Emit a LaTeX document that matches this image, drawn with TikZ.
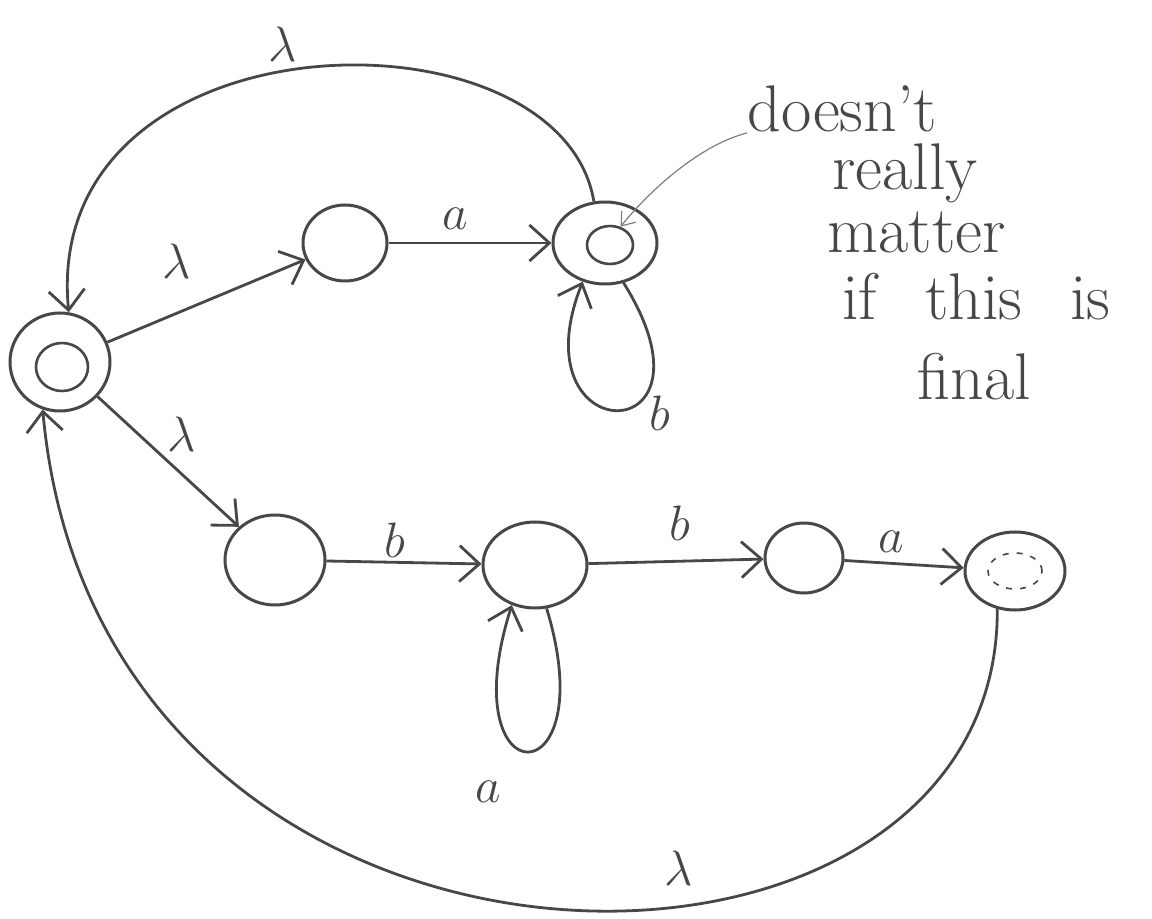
\documentclass[tikz,border=0pt]{standalone}
\usepackage{amsmath,amssymb}
\usepackage{tikz}
\usetikzlibrary{arrows.meta,shapes.geometric}
\colorlet{ink}{black!72}
\tikzset{
  st/.style={draw=ink,ellipse,line width=1.5pt,inner sep=0pt},
  inr/.style={draw=ink,ellipse,line width=1.3pt,inner sep=0pt},
  tr/.style={draw=ink,line width=1.4pt,-{Straight Barb[length=10pt,width=18pt,line width=1.4pt]}},
  lab/.style={font=\fontsize{26}{30}\selectfont,text=ink},
  note/.style={font=\fontsize{33}{38}\selectfont,text=ink,anchor=base west,inner sep=0pt},
  ptr/.style={draw=ink!70,line width=0.6pt,-{Straight Barb[length=6pt,width=9pt]}},
}
\begin{document}
\begin{tikzpicture}[x=0.5pt,y=0.5pt]
  \useasboundingbox (0,0) rectangle (1152,-919);
  \node[st,minimum width=50pt,minimum height=49pt] (q0) at (60,-362) {};
  \node[inr,minimum width=26pt,minimum height=24pt] (q0i) at (62,-367) {};
  \node[st,minimum width=42pt,minimum height=38pt] (q1) at (345,-243) {};
  \node[st,minimum width=52pt,minimum height=41pt] (q2) at (605,-243) {};
  \node[inr,minimum width=23pt,minimum height=19pt] (q2i) at (610,-245) {};
  \node[st,minimum width=50pt,minimum height=45pt] (q3) at (275,-560) {};
  \node[st,minimum width=52pt,minimum height=43pt] (q4) at (535,-565) {};
  \node[st,minimum width=39pt,minimum height=35pt] (q5) at (804,-558) {};
  \node[st,minimum width=50pt,minimum height=39pt] (q6) at (1015,-571) {};
  \node[inr,line width=0.8pt,dash pattern=on 3pt off 4pt,minimum width=27pt,minimum height=18pt] (q6i) at (1015,-571) {};
  \draw[tr] (q0) -- node[lab,pos=0.35,yshift=26pt] {$\lambda$} (q1);
  \draw[tr] (q1) -- node[lab,pos=0.41,yshift=12pt] {$a$} (q2);
  \draw[tr] (q2.-65) .. controls (730,-453) and (515,-453) .. node[lab,pos=0.4,xshift=12pt,yshift=-4pt] {$b$} (q2.-120);
  \draw[tr] (q2.105) .. controls (560,0) and (40,-10) .. node[lab,pos=0.55,xshift=7pt,yshift=15pt] {$\lambda$} (q0.80);
  \draw[tr] (q0) -- node[lab,pos=0.55,xshift=3pt,yshift=17pt] {$\lambda$} (q3);
  \draw[tr] (q3) -- node[lab,pos=0.44,yshift=11pt] {$b$} (q4);
  \draw[tr] (q4.-75) .. controls (605,-800) and (450,-800) .. node[lab,pos=0.5,xshift=-20pt,yshift=-20pt] {$a$} (q4.-120);
  \draw[tr] (q4) -- node[lab,pos=0.52,yshift=19pt] {$b$} (q5);
  \draw[tr] (q5) -- node[lab,pos=0.39,yshift=11pt] {$a$} (q6);
  \draw[tr] (q6.-115) .. controls (1000,-1040) and (100,-1040) .. node[lab,pos=0.4,yshift=19pt] {$\lambda$} (q0.-110);
  \node[note] (n1) at (747,-132) {doesn't};
  \node[note] (n2) at (832,-190) {really};
  \node[note] (n3) at (827,-253) {matter};
  \node[note] (n4) at (842,-320) {if\hspace{24pt}this\hspace{24pt}is};
  \node[note] (n5) at (917,-400) {final};
  \draw[ptr] (n1.south west) .. controls (700,-145) and (650,-190) .. (q2i.60);
\end{tikzpicture}
\end{document}
